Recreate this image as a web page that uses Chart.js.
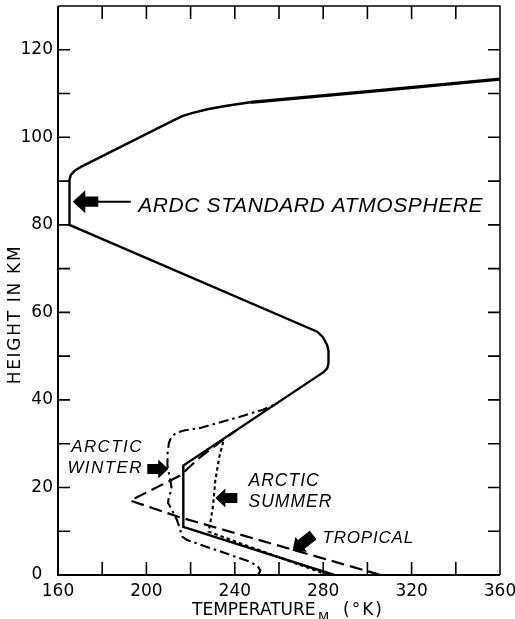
<!DOCTYPE html>
<html>
<head>
<meta charset="utf-8">
<script src="https://cdn.jsdelivr.net/npm/chart.js@4"></script>
<style>
  html, body { margin: 0; padding: 0; background: #fff; }
  canvas { display: block; }
</style>
</head>
<body>
<canvas id="c" width="515" height="619"></canvas>
<script>
// Temperature (°K) against height (km) for four model atmospheres.

// ARDC standard atmosphere
const ardcTemp   = [285, 216.7, 216.7, 280.3, 281.8, 282.4, 282.4, 281.8, 279.8, 277.3, 165.2, 165.2, 165.8, 167.6, 170.6, 212, 216.5, 221, 227.6, 235, 247, 307.4, 360];
const ardcHeight = [0,   11,    25,    46.4,  47.2,  48.3,  51.2,  52.5,  54.4,  55.6,  80,    90.3,  91.4,  92.4,  93.3,  103.8, 104.9, 105.6, 106.4, 107.1, 108, 110.8, 113.3];

// Tropical
const tropicalTemp   = [306, 214.4, 192.7, 215.6, 218, 224.5, 234.5, 240.5];
const tropicalHeight = [0,   13.3,  17,    22.8,  24,  27,    30.8,  33];

// Arctic summer
const summerTemp   = [282, 228.1, 228.9, 230.2, 231.2, 233, 235];
const summerHeight = [0,   9.9,   11.8,  16,    21.7,  27,  30.9];

// Arctic winter
const winterTemp   = [250.5, 251.6, 250.4, 247, 218.4, 216.2, 215.3, 213.8, 212.2, 209.8, 210.2, 211.5, 210.8, 209.5, 209.6, 210.2, 211.3, 213.5, 217, 224.4, 240, 253, 257.8];
const winterHeight = [0,     1.0,   2.0,   3.0, 8.0,   8.8,   10.3,  12.6,  14.2,  16.5,  18.0,  19.5,  21.7,  25,    28,    30.2,  31.5,  32.5,  33,  33.6,  35.8, 37.8, 38.9];

// Axis tick labels
const tempLabels   = [160, 200, 240, 280, 320, 360];
const heightLabels = [0, 20, 40, 60, 80, 100, 120];

const toPoints = (t, h) => t.map((v, i) => ({ x: v, y: h[i] }));

function lineSet(t, h, dash, width) {
  return {
    data: toPoints(t, h),
    showLine: true,
    borderColor: '#000',
    borderWidth: width,
    borderDash: dash,
    pointRadius: 0,
    tension: 0,
    fill: false
  };
}

// Filled block arrow; tip at (0,0) pointing along +x after rotation
function blockArrow(ctx, tx, ty, angle, headLen, headHalf, shaftLen, shaftHalf) {
  ctx.save();
  ctx.translate(tx, ty);
  ctx.rotate(angle);
  ctx.beginPath();
  ctx.moveTo(0, 0);
  ctx.lineTo(-headLen, -headHalf);
  ctx.lineTo(-headLen, -shaftHalf);
  ctx.lineTo(-headLen - shaftLen, -shaftHalf);
  ctx.lineTo(-headLen - shaftLen, shaftHalf);
  ctx.lineTo(-headLen, shaftHalf);
  ctx.lineTo(-headLen, headHalf);
  ctx.closePath();
  ctx.fill();
  ctx.restore();
}

const decor = {
  id: 'decor',
  beforeDraw(chart) {
    const ctx = chart.ctx;
    ctx.save();
    ctx.fillStyle = '#fff';
    ctx.fillRect(0, 0, chart.width, chart.height);
    ctx.restore();
  },
  afterDraw(chart) {
    const { ctx, chartArea: a, scales: { x, y } } = chart;
    ctx.save();
    ctx.strokeStyle = '#000';
    ctx.fillStyle = '#000';
    ctx.lineCap = 'butt';

    // frame
    ctx.lineWidth = 2;
    ctx.beginPath();
    ctx.moveTo(a.left, a.top);
    ctx.lineTo(a.left, a.bottom);
    ctx.lineTo(a.right, a.bottom);
    ctx.stroke();
    ctx.lineWidth = 1.5;
    ctx.beginPath();
    ctx.moveTo(a.left, a.top);
    ctx.lineTo(a.right, a.top);
    ctx.lineTo(a.right, a.bottom);
    ctx.stroke();

    // inward tick marks on all four sides
    ctx.lineWidth = 1.6;
    x.ticks.forEach(t => {
      const px = x.getPixelForValue(t.value);
      if (px <= a.left + 1 || px >= a.right - 1) return;
      ctx.beginPath();
      ctx.moveTo(px, a.bottom); ctx.lineTo(px, a.bottom - 13);
      ctx.moveTo(px, a.top); ctx.lineTo(px, a.top + 13);
      ctx.stroke();
    });
    y.ticks.forEach(t => {
      const py = y.getPixelForValue(t.value);
      if (py >= a.bottom - 1 || py <= a.top + 1) return;
      ctx.beginPath();
      ctx.moveTo(a.left, py); ctx.lineTo(a.left + 12, py);
      ctx.moveTo(a.right, py); ctx.lineTo(a.right - 12, py);
      ctx.stroke();
    });

    const X = v => x.getPixelForValue(v);
    const Y = v => y.getPixelForValue(v);

    // curve labels
    ctx.textBaseline = 'alphabetic';
    ctx.textAlign = 'left';
    ctx.font = 'italic 21px "Liberation Sans", Arial, sans-serif';
    ctx.letterSpacing = '0.6px';
    ctx.fillText('ARDC STANDARD ATMOSPHERE', X(196.3), Y(82.9));

    ctx.font = 'italic 17px "Liberation Sans", Arial, sans-serif';
    ctx.letterSpacing = '1.4px';
    ctx.textAlign = 'right';
    ctx.fillText('ARCTIC', X(198.4), Y(28.1));
    ctx.fillText('WINTER', X(198.4), Y(23.3));

    ctx.textAlign = 'left';
    ctx.letterSpacing = '1px';
    ctx.font = 'italic 17.5px "Liberation Sans", Arial, sans-serif';
    ctx.fillText('ARCTIC', X(246.2), Y(20.3));
    ctx.fillText('SUMMER', X(246.2), Y(15.5));
    ctx.font = 'italic 17px "Liberation Sans", Arial, sans-serif';
    ctx.letterSpacing = '0.8px';
    ctx.fillText('TROPICAL', X(279.7), Y(7.3));

    // arrows
    blockArrow(ctx, X(166.7), Y(85.3), Math.PI, 12.5, 11.5, 13, 5.2);
    ctx.lineWidth = 2;
    ctx.beginPath();
    ctx.moveTo(X(166.7) + 24, Y(85.3));
    ctx.lineTo(X(166.7) + 58, Y(85.3));
    ctx.stroke();
    blockArrow(ctx, X(209.9), Y(24.2), 0, 10, 9.5, 11, 5);
    blockArrow(ctx, X(231.2), Y(17.6), Math.PI, 10, 9.5, 12, 5);
    blockArrow(ctx, X(266.1), Y(5.5), Math.atan2(16, -21), 11, 9.5, 15, 5.5);

    // axis titles
    ctx.letterSpacing = '1.7px';
    ctx.font = '17px "DejaVu Sans", sans-serif';
    ctx.save();
    ctx.translate(16, (a.top + a.bottom) / 2 + 24);
    ctx.rotate(-Math.PI / 2);
    ctx.textAlign = 'center';
    ctx.textBaseline = 'middle';
    ctx.fillText('HEIGHT IN KM', 0, 0);
    ctx.restore();

    ctx.textAlign = 'left';
    ctx.textBaseline = 'alphabetic';
    ctx.letterSpacing = '0px';
    ctx.fillText('TEMPERATURE', 192, 615);
    ctx.font = '13px "DejaVu Sans", sans-serif';
    ctx.fillText('M', 318, 621);
    ctx.font = '17px "DejaVu Sans", sans-serif';
    ctx.letterSpacing = '2px';
    ctx.fillText('(°K)', 343, 615);
    ctx.restore();
  }
};

const ardc = lineSet(ardcTemp, ardcHeight, [], 2.4);
// the thermosphere branch above ~108 km is inked heavier
ardc.segment = { borderWidth: c => (c.p0.parsed.y >= 107.9 ? 3.3 : 2.4) };

new Chart(document.getElementById('c'), {
  type: 'scatter',
  data: {
    datasets: [
      ardc,
      lineSet(tropicalTemp, tropicalHeight, [13, 6], 2.2),
      lineSet(summerTemp, summerHeight, [3.5, 3], 2.1),
      lineSet(winterTemp, winterHeight, [10, 4, 2.5, 4], 2.1)
    ]
  },
  options: {
    responsive: false,
    animation: false,
    events: [],
    layout: { padding: { top: 6, right: 15, left: 0, bottom: 0 } },
    plugins: { legend: { display: false }, tooltip: { enabled: false } },
    scales: {
      x: {
        type: 'linear',
        min: 160, max: 360,
        grid: { display: false, drawTicks: false },
        border: { display: false },
        ticks: {
          stepSize: 20,
          autoSkip: false,
          maxRotation: 0,
          padding: 6,
          color: '#000',
          font: { family: '"DejaVu Sans", sans-serif', size: 17 },
          callback: v => tempLabels.includes(v) ? String(v) : ''
        },
        afterFit(s) { s.height = 44; s.paddingLeft = 0; s.paddingRight = 0; }
      },
      y: {
        type: 'linear',
        min: 0, max: 130,
        grid: { display: false, drawTicks: false },
        border: { display: false },
        ticks: {
          stepSize: 10,
          autoSkip: false,
          padding: 5,
          color: '#000',
          font: { family: '"DejaVu Sans", sans-serif', size: 17 },
          callback: v => heightLabels.includes(v) ? (v === 0 ? '0  ' : String(v)) : ''
        },
        afterFit(s) { s.width = 58; s.paddingTop = 0; s.paddingBottom = 0; }
      }
    }
  },
  plugins: [decor]
});
</script>
</body>
</html>
